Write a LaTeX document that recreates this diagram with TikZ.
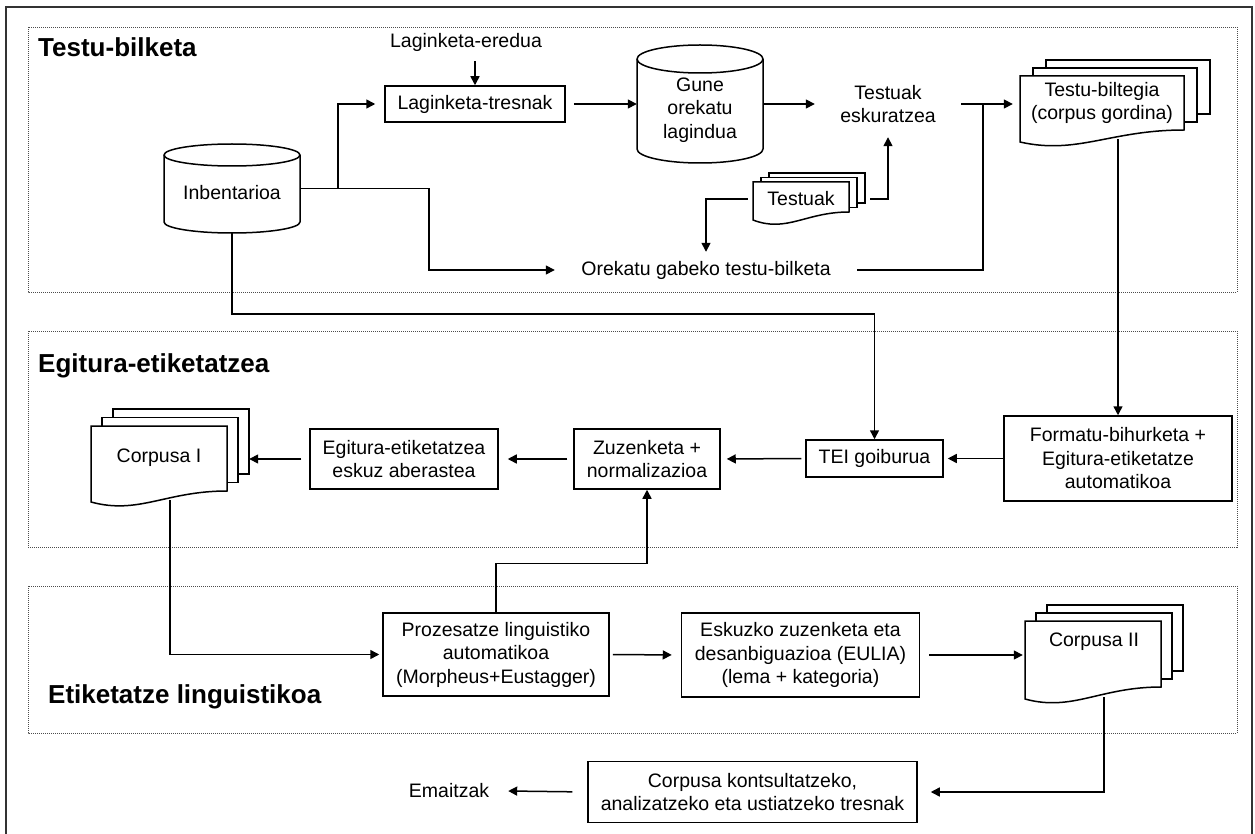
\documentclass[tikz,border=0pt]{standalone}
\usepackage{fontspec}
\setmainfont{Liberation Sans}
\usetikzlibrary{arrows.meta}

% cylinder: x1 y1 x2 y2 ry (pixel coords, y down)
\newcommand\cylshape[5]{%
  \pgfmathsetmacro\cylrx{(#3-#1)/2}%
  \draw[shapeline, fill=white] (#1,#2+#5) -- (#1,#4-#5)
    arc[start angle=180, end angle=360, x radius=\cylrx pt, y radius=#5 pt]
    -- (#3,#2+#5)
    arc[start angle=0, end angle=180, x radius=\cylrx pt, y radius=#5 pt] -- cycle;
  \draw[shapeline] (#1,#2+#5)
    arc[start angle=180, end angle=360, x radius=\cylrx pt, y radius=#5 pt];
}
% multi-document: x1 ytop x2 yLeftBottom yRightBottom dx dy
\newcommand\mdocshape[7]{%
  \pgfmathsetmacro\mdw{#3-#1}%
  \draw[shapeline, fill=white] (#1+2*#6,#2-2*#7) rectangle (#3+2*#6,#5-2*#7);
  \draw[shapeline, fill=white] (#1+#6,#2-#7) rectangle (#3+#6,#5-#7);
  \draw[shapeline, fill=white] (#1,#2) -- (#3,#2) -- (#3,#5)
    .. controls (#1+0.55*\mdw,#5) and (#1+0.35*\mdw,#4+13) .. (#1,#4) -- cycle;
}

\begin{document}
\begin{tikzpicture}[x=1pt,y=-1pt,
  every node/.style={font=\fontsize{19.5}{23.5}\selectfont, inner sep=0pt, align=center},
  box/.style={draw, line width=1.5pt, fill=white},
  shapeline/.style={line width=1.5pt},
  conn/.style={line width=1.5pt, -{Triangle[length=9pt,width=9pt]}},
  plain/.style={line width=1.5pt},
  title/.style={font=\fontsize{26}{30}\selectfont\bfseries, anchor=base west},
  section/.style={draw=black!70, line width=0.9pt, dash pattern=on 1pt off 1pt},
  frame/.style={draw=black!80, line width=1.6pt}]

\useasboundingbox (0,0) rectangle (1255,834);
\fill[white] (0,0) rectangle (1255,834);
\draw[frame] (6,7) rectangle (1252,860);

% sections
\draw[section] (28,27) rectangle (1237,292);
\draw[section] (28,331) rectangle (1237,547);
\draw[section] (28,586) rectangle (1237,733);

\node[title] (t1) at (38,57) {Testu-bilketa};
\node[title] (t2) at (38,372) {Egitura-etiketatzea};
\node[title] (t3) at (48,703) {Etiketatze linguistikoa};

% ---- section 1 ----
\cylshape{164}{144}{300}{233}{11}
\node[minimum width=136pt, minimum height=89pt] (inb) at (232,188.5) {};
\node (inbT) at (232,193) {Inbentarioa};

\cylshape{637}{45}{763}{163}{14}
\node[minimum width=126pt, minimum height=118pt] (gune) at (700,104) {};
\node (guneT) at (700,110) {Gune\\orekatu\\lagindua};

\node[box, minimum width=180pt, minimum height=36pt] (ltre) at (475,104) {Laginketa-tresnak};
\node[minimum height=38pt] (lered) at (466,42) {Laginketa-eredua};
\node[minimum width=146pt, minimum height=66pt] (tesk) at (888,104) {Testuak\\eskuratzea};
\node[minimum width=302pt, minimum height=36pt] (oreg) at (706,270) {Orekatu gabeko testu-bilketa};

\mdocshape{1020}{76}{1184}{142}{130}{13}{8}
\node[minimum width=190pt, minimum height=79pt] (tb) at (1115,99.5) {};
\node (tbT) at (1102,103) {Testu-biltegia\\(corpus gordina)};

\mdocshape{753}{182}{849}{220}{212}{8}{4.5}
\node[minimum width=112pt, minimum height=43pt] (testuak) at (809,194.5) {};
\node (testuakT) at (801,199) {Testuak};

% ---- section 2 ----
\mdocshape{91}{426}{227}{502}{491}{11}{8.5}
\node[minimum width=158pt, minimum height=91pt] (corp1) at (170,454.5) {};
\node (corp1T) at (159,458) {Corpusa I};

\node[box, minimum width=188pt, minimum height=60pt] (egit) at (404,459) {Egitura-etiketatzea\\eskuz aberastea};
\node[box, minimum width=146pt, minimum height=60pt] (zuz) at (647,459) {Zuzenketa +\\normalizazioa};
\node[box, minimum width=137pt, minimum height=37pt] (tei) at (874.5,458.5) {TEI goiburua};
\node[box, minimum width=228pt, minimum height=85pt] (form) at (1118,458.5) {Formatu-bihurketa +\\Egitura-etiketatze\\automatikoa};

% ---- section 3 ----
\node[box, minimum width=226pt, minimum height=83pt] (proz) at (496,654.5) {Prozesatze linguistiko\\automatikoa\\(Morpheus+Eustagger)};
\node[box, minimum width=238pt, minimum height=84pt] (esk) at (800.5,655) {Eskuzko zuzenketa eta\\desanbiguazioa (EULIA)\\(lema + kategoria)};

\mdocshape{1025}{621}{1161}{699}{687}{11}{8}
\node[minimum width=158pt, minimum height=92pt] (corp2) at (1104,651) {};
\node (corp2T) at (1094,642) {Corpusa II};

\node[box, minimum width=329pt, minimum height=61pt] (kons) at (752.5,792) {Corpusa kontsultatzeko,\\analizatzeko eta ustiatzeko tresnak};
\node[minimum width=118pt, minimum height=30pt] (emai) at (449,791) {Emaitzak};

% ---- connectors ----
\coordinate (j1) at (983,104);
\coordinate (c1) at (429,188.5);
\coordinate (c2) at (338,188.5);
\coordinate (c3) at (232,314);

\draw[conn] (lered.south -| ltre.north) -- (ltre.north);
\draw[conn, shorten <=8pt] (ltre.east) -- (gune.west);
\draw[conn] (gune.east) -- (tesk.west);
\draw[conn, shorten >=7pt] (tesk.east) -- (tesk.east -| tb.west);
\draw[plain] (oreg.east) -| (j1);
\draw[conn, shorten <=5pt] (testuakT -| testuak.east) -| (tesk.south);
\draw[conn, shorten <=5pt] (testuakT -| testuak.west) -| (oreg.north);
\draw[conn] (inb.east) -- (c1) |- (oreg.west);
\draw[conn, shorten >=9pt] (c2) |- (ltre.west);
\draw[conn] (inb.south) -- (c3) -| (tei.north);
\draw[conn] (tb.south -| form.north) -- (form.north);

\draw[conn, shorten >=4pt] (form.west) -- (tei.east);
\draw[conn, shorten <=4pt, shorten >=6pt] (tei.west) -- (zuz.east);
\draw[conn, shorten <=6pt, shorten >=9pt] (zuz.west) -- (egit.east);
\draw[conn, shorten <=8pt] (egit.west) -- (egit.west -| corp1.east);
\draw[conn, shorten >=3pt] (corp1.south) |- (proz.west);
\draw[conn] (proz.north) -- ++(0,-49) -| (zuz.south);
\draw[conn, shorten <=3pt, shorten >=9pt] (proz.east) -- (esk.west);
\draw[conn, shorten <=9pt, shorten >=2pt] (esk.east) -- (esk.east -| corp2.west);
\draw[conn, shorten >=13pt] (corp2.south) |- (kons.east);
\draw[conn, shorten <=15pt] (kons.west) -- (emai.east);
\end{tikzpicture}
\end{document}
